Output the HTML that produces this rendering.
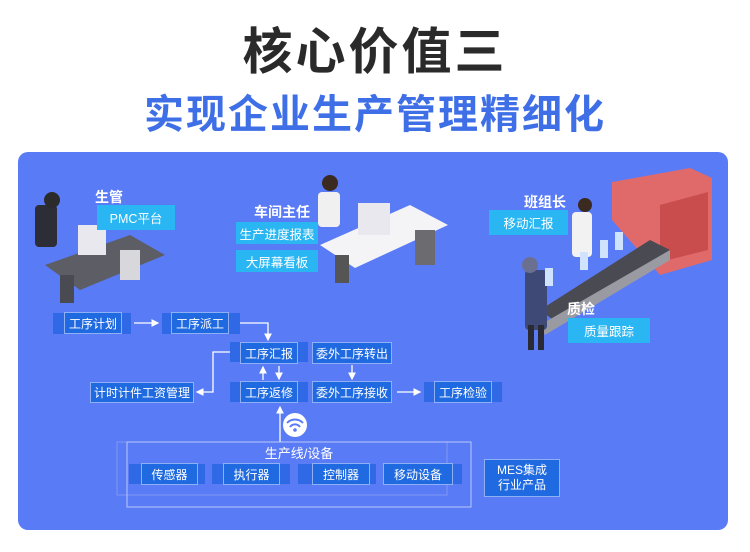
<!DOCTYPE html>
<html><head><meta charset="utf-8"><style>
*{margin:0;padding:0;box-sizing:border-box}
body{width:750px;height:552px;background:#fff;position:relative;overflow:hidden;font-family:"Liberation Sans","Noto Sans CJK SC",sans-serif}
.a{position:absolute}
.t1{left:0;width:750px;top:12px;text-align:center;font-size:50px;font-weight:bold;color:#2a2a2a;letter-spacing:3px}
.t2{left:0;width:750px;top:82px;text-align:center;font-size:40px;font-weight:bold;color:#3f6fe6;letter-spacing:2px}
.panel{left:18px;top:152px;width:710px;height:378px;background:#5a7bf6;border-radius:10px}
.band{background:#2f69e6}
.box{background:#1f6ae0;border:1px solid #8fb0f5;color:#fff;font-size:12px;text-align:center;display:flex;align-items:center;justify-content:center}
.cy{background:#29b6f2;color:#fff;font-size:12.5px;display:flex;align-items:center;justify-content:center}
.lb{color:#fff;font-weight:bold;font-size:14px}
</style></head><body>
<div class="a t1">核心价值三</div>
<div class="a t2">实现企业生产管理精细化</div>
<div class="a panel"></div>

<svg class="a" style="left:0;top:0" width="750" height="552">
<defs><marker id="m" markerWidth="6" markerHeight="6" refX="5" refY="3" orient="auto"><path d="M0,0L6,3L0,6z" fill="#fff"/></marker></defs>
<!-- illustrations -->
<g>
<polygon points="45,265 130,235 165,255 80,290" fill="#5d5d66"/>
<rect x="60" y="275" width="14" height="28" fill="#4a4a52"/>
<rect x="120" y="250" width="20" height="30" fill="#d8d8dc"/>
<rect x="78" y="225" width="28" height="30" fill="#e8e8ee"/>
<rect x="35" y="205" width="22" height="42" fill="#2d2d38" rx="4"/>
<circle cx="52" cy="200" r="8" fill="#2b2b2b"/>
<polygon points="320,245 410,205 448,225 355,268" fill="#f4f4f6"/>
<rect x="335" y="255" width="14" height="28" fill="#555"/>
<rect x="415" y="230" width="20" height="35" fill="#6b6b70"/>
<rect x="358" y="203" width="32" height="32" fill="#e8e8ee"/>
<rect x="318" y="192" width="22" height="35" fill="#f0f0f0" rx="4"/>
<circle cx="330" cy="183" r="8" fill="#3a2a20"/>
<polygon points="612,182 690,168 712,178 712,260 660,275 612,220" fill="#e06a6a"/>
<polygon points="660,205 708,192 708,250 660,262" fill="#c94d4d"/>
<polygon points="540,310 650,240 670,250 560,325" fill="#4a4a52"/>
<polygon points="540,325 670,250 670,260 545,335" fill="#9a9aa2"/>
<rect x="572" y="212" width="20" height="45" fill="#f2f2f2" rx="4"/>
<circle cx="585" cy="205" r="7" fill="#3a2a20"/>
<rect x="525" y="270" width="22" height="60" fill="#3e4a75" rx="4"/>
<circle cx="530" cy="265" r="8" fill="#6c7090"/>
<rect x="528" y="325" width="6" height="25" fill="#2a2a35"/>
<rect x="538" y="325" width="6" height="25" fill="#2a2a35"/>
<g fill="#cfe3ff"><rect x="545" y="268" width="8" height="18"/><rect x="600" y="240" width="8" height="18"/><rect x="615" y="232" width="8" height="18"/><rect x="580" y="252" width="8" height="18"/></g>
</g>
<g stroke="#fff" stroke-width="1.3" fill="none">
<path d="M134,323H158" marker-end="url(#m)"/>
<path d="M229,323H268V340" marker-end="url(#m)"/>
<path d="M240,352H213V392H197" marker-end="url(#m)"/>
<path d="M263,380V367" marker-end="url(#m)"/>
<path d="M279,366V379" marker-end="url(#m)"/>
<path d="M352,365V379" marker-end="url(#m)"/>
<path d="M397,392H420" marker-end="url(#m)"/>
<path d="M280,442V407" marker-end="url(#m)"/>
</g>
<rect x="117" y="442" width="330" height="53" fill="none" stroke="#7d97f2" stroke-width="1"/>
<rect x="127" y="442" width="344" height="65" fill="none" stroke="#b8c8fa" stroke-width="1"/>
<circle cx="295" cy="425" r="12" fill="#fff"/>
<g stroke="#5a7bf6" stroke-width="2" fill="none"><path d="M287,423a11,11 0 0 1 16,0"/><path d="M290,427a6,6 0 0 1 10,0"/></g>
<circle cx="295" cy="430" r="1.8" fill="#5a7bf6"/>
</svg>

<div class="a lb" style="left:95px;top:187px">生管</div>
<div class="a cy" style="left:97px;top:205px;width:78px;height:25px">PMC平台</div>
<div class="a lb" style="left:254px;top:202px">车间主任</div>
<div class="a cy" style="left:236px;top:222px;width:82px;height:22px">生产进度报表</div>
<div class="a cy" style="left:236px;top:250px;width:82px;height:22px">大屏幕看板</div>
<div class="a lb" style="left:524px;top:192px">班组长</div>
<div class="a cy" style="left:489px;top:210px;width:79px;height:25px">移动汇报</div>
<div class="a lb" style="left:567px;top:299px">质检</div>
<div class="a cy" style="left:568px;top:318px;width:82px;height:25px">质量跟踪</div>

<div class="a band" style="left:53px;top:313px;width:78px;height:21px"></div>
<div class="a box" style="left:64px;top:312px;width:58px;height:22px">工序计划</div>
<div class="a band" style="left:162px;top:313px;width:78px;height:21px"></div>
<div class="a box" style="left:171px;top:312px;width:58px;height:22px">工序派工</div>
<div class="a band" style="left:230px;top:342px;width:78px;height:20px"></div>
<div class="a box" style="left:240px;top:342px;width:58px;height:22px">工序汇报</div>
<div class="a box" style="left:312px;top:342px;width:80px;height:22px">委外工序转出</div>
<div class="a box" style="left:90px;top:382px;width:104px;height:21px">计时计件工资管理</div>
<div class="a band" style="left:230px;top:382px;width:78px;height:20px"></div>
<div class="a box" style="left:240px;top:381px;width:58px;height:22px">工序返修</div>
<div class="a box" style="left:312px;top:381px;width:80px;height:22px">委外工序接收</div>
<div class="a band" style="left:424px;top:382px;width:78px;height:20px"></div>
<div class="a box" style="left:434px;top:381px;width:58px;height:22px">工序检验</div>

<div class="a" style="left:127px;top:443px;width:344px;text-align:center;color:#fff;font-size:13px">生产线/设备</div>
<div class="a band" style="left:129px;top:464px;width:76px;height:20px"></div>
<div class="a box" style="left:141px;top:463px;width:57px;height:22px">传感器</div>
<div class="a band" style="left:212px;top:464px;width:78px;height:20px"></div>
<div class="a box" style="left:223px;top:463px;width:57px;height:22px">执行器</div>
<div class="a band" style="left:298px;top:464px;width:78px;height:20px"></div>
<div class="a box" style="left:312px;top:463px;width:58px;height:22px">控制器</div>
<div class="a band" style="left:383px;top:464px;width:79px;height:20px"></div>
<div class="a box" style="left:383px;top:463px;width:70px;height:22px">移动设备</div>
<div class="a box" style="left:484px;top:459px;width:76px;height:38px;line-height:15px">MES集成<br>行业产品</div>
</body></html>
